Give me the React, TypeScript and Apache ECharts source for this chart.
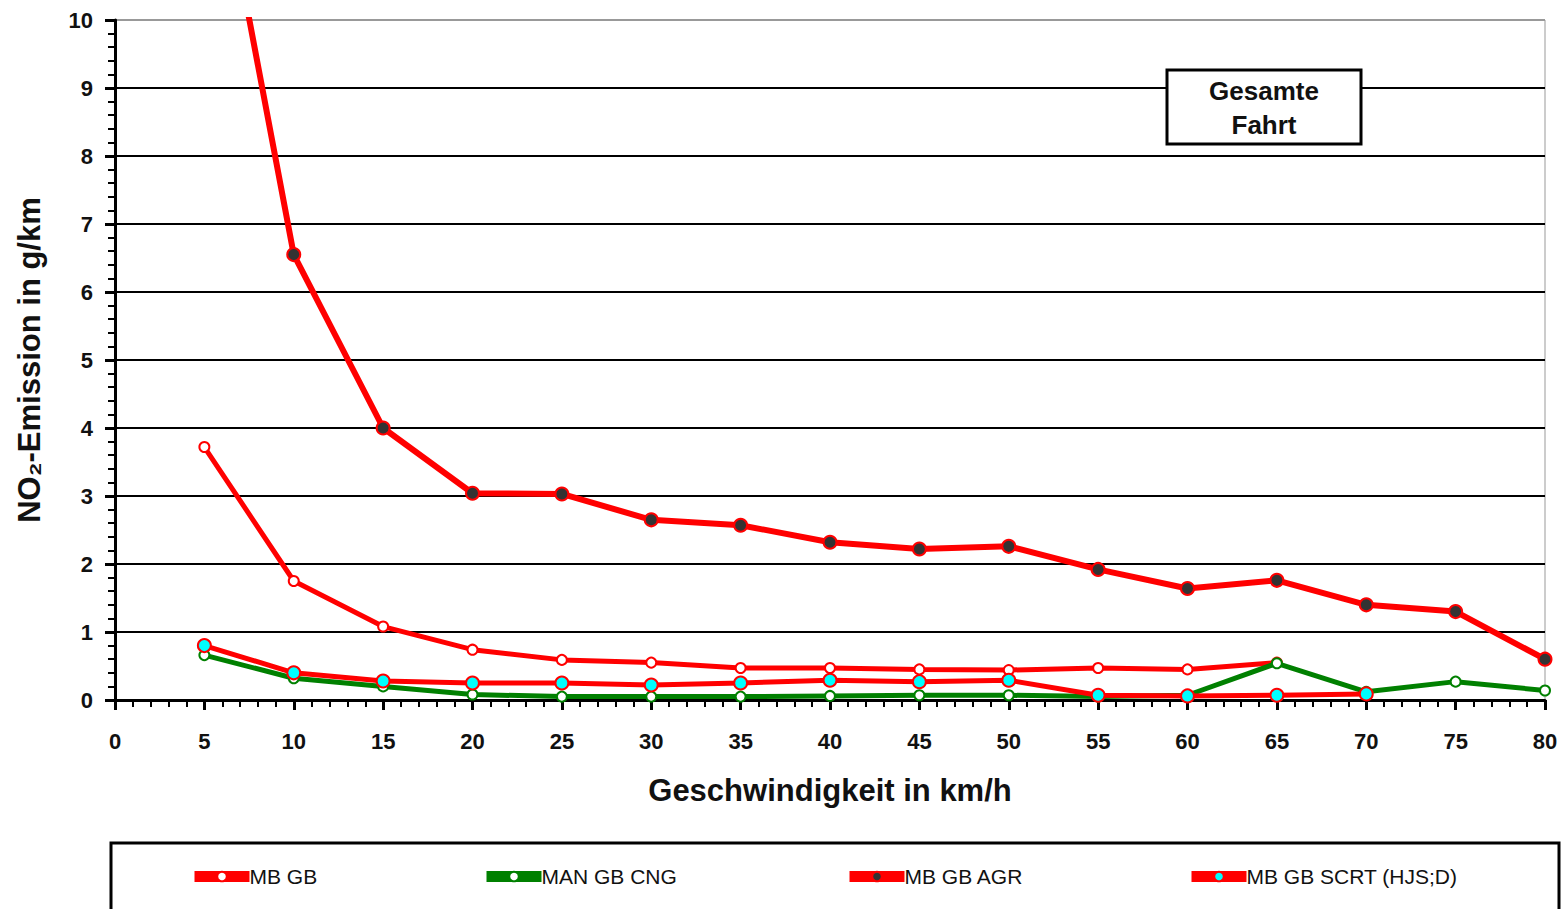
import React, { useEffect, useRef } from "react";
import * as echarts from "echarts";

const speeds = [5, 10, 15, 20, 25, 30, 35, 40, 45, 50, 55, 60, 65, 70, 75, 80];
const mbGB = [3.72, 1.75, 1.08, 0.74, 0.59, 0.55, 0.47, 0.47, 0.45, 0.44, 0.47, 0.45, 0.55];
const manCNG = [0.66, 0.32, 0.2, 0.08, 0.05, 0.05, 0.05, 0.06, 0.07, 0.07, 0.05, 0.07, 0.54, 0.12, 0.27, 0.14];
const mbAGR = [13.5, 6.55, 4.0, 3.04, 3.03, 2.65, 2.57, 2.32, 2.22, 2.26, 1.92, 1.64, 1.76, 1.4, 1.3, 0.6];
const mbSCRT = [0.8, 0.4, 0.28, 0.25, 0.25, 0.22, 0.25, 0.29, 0.27, 0.29, 0.07, 0.06, 0.07, 0.09];
const seriesNames = ["MB GB", "MAN GB CNG", "MB GB AGR", "MB GB SCRT (HJS;D)"];
const xTicks = { min: 0, max: 80, interval: 5 };
const yTicks = { min: 0, max: 10, interval: 1 };

const pairs = (vals: number[]) => vals.map((v, i) => [speeds[i], v]);

export default function App() {
  const ref = useRef<HTMLDivElement>(null);
  useEffect(() => {
    document.body.style.margin = "0";
    const chart = echarts.init(ref.current!, null, { renderer: "svg" });
    const font = "'Liberation Sans', Arial, sans-serif";
    const legendLefts = [184, 476, 839, 1181];
    const mk = (name: string, data: number[], color: string, fill: string, size: number, width: number, z: number) => ({
      name,
      type: "line",
      data: pairs(data),
      symbol: "circle",
      symbolSize: size,
      z,
      lineStyle: { color, width },
      itemStyle: { color: fill, borderColor: color, borderWidth: 2 },
    });
    const splitColors = Array.from({ length: 11 }, (_, i) => (i === 10 ? "#999" : "#000"));
    chart.setOption({
      animation: false,
      backgroundColor: "#fff",
      grid: { left: 115, right: 20, top: 20, bottom: 209, show: true, borderColor: "#999", borderWidth: 1 },
      xAxis: {
        type: "value",
        min: xTicks.min,
        max: xTicks.max,
        interval: xTicks.interval,
        name: "Geschwindigkeit in km/h",
        nameLocation: "middle",
        nameGap: 75,
        nameTextStyle: { fontFamily: font, fontWeight: "bold", fontSize: 31, color: "#111" },
        axisLine: { show: true, onZero: false, lineStyle: { color: "#000", width: 3 } },
        axisTick: { show: true, length: 10, lineStyle: { color: "#000", width: 3 } },
        minorTick: { show: true, splitNumber: 5, length: 7, lineStyle: { color: "#000", width: 2 } },
        splitLine: { show: false },
        axisLabel: { fontFamily: font, fontWeight: "bold", fontSize: 22, color: "#111", margin: 30 },
      },
      yAxis: {
        type: "value",
        min: yTicks.min,
        max: yTicks.max,
        interval: yTicks.interval,
        name: "NO\u2082-Emission in g/km",
        nameLocation: "middle",
        nameGap: 70,
        nameTextStyle: { fontFamily: font, fontWeight: "bold", fontSize: 31, color: "#111" },
        axisLine: { show: true, lineStyle: { color: "#000", width: 3 } },
        axisTick: { show: true, length: 10, lineStyle: { color: "#000", width: 3 } },
        minorTick: { show: true, splitNumber: 5, length: 7, lineStyle: { color: "#000", width: 2 } },
        splitLine: { show: true, lineStyle: { color: splitColors, width: 2 } },
        axisLabel: { fontFamily: font, fontWeight: "bold", fontSize: 22, color: "#111", margin: 22 },
      },
      legend: seriesNames.map((n, i) => ({
        data: [n],
        left: legendLefts[i],
        top: 861,
        itemWidth: 55,
        itemHeight: 12,
        lineStyle: { width: 11 },
        textStyle: { fontFamily: font, fontSize: 21, color: "#111", padding: [0, 0, 0, -5] },
      })),
      graphic: [
        {
          type: "rect",
          shape: { x: 111, y: 843, width: 1448, height: 100 },
          style: { fill: "none", stroke: "#000", lineWidth: 3 },
        },
        {
          type: "rect",
          shape: { x: 1167, y: 70, width: 194, height: 74 },
          style: { fill: "#fff", stroke: "#000", lineWidth: 3 },
          z: 50,
        },
        {
          type: "text",
          x: 1264,
          y: 91,
          z: 51,
          style: { text: "Gesamte", fontFamily: font, fontWeight: "bold", fontSize: 26, fill: "#111", align: "center", verticalAlign: "middle" },
        },
        {
          type: "text",
          x: 1264,
          y: 125,
          z: 51,
          style: { text: "Fahrt", fontFamily: font, fontWeight: "bold", fontSize: 26, fill: "#111", align: "center", verticalAlign: "middle" },
        },
      ],
      series: [
        mk(seriesNames[0], mbGB, "#ff0000", "#ffffff", 10, 5, 2),
        mk(seriesNames[1], manCNG, "#008000", "#ffffff", 10, 5, 3),
        mk(seriesNames[2], mbAGR, "#ff0000", "#333333", 13, 6, 4),
        mk(seriesNames[3], mbSCRT, "#ff0000", "#00ffff", 13, 5, 5),
      ],
    });
    return () => chart.dispose();
  }, []);
  return <div ref={ref} style={{ width: 1565, height: 909 }} />;
}
